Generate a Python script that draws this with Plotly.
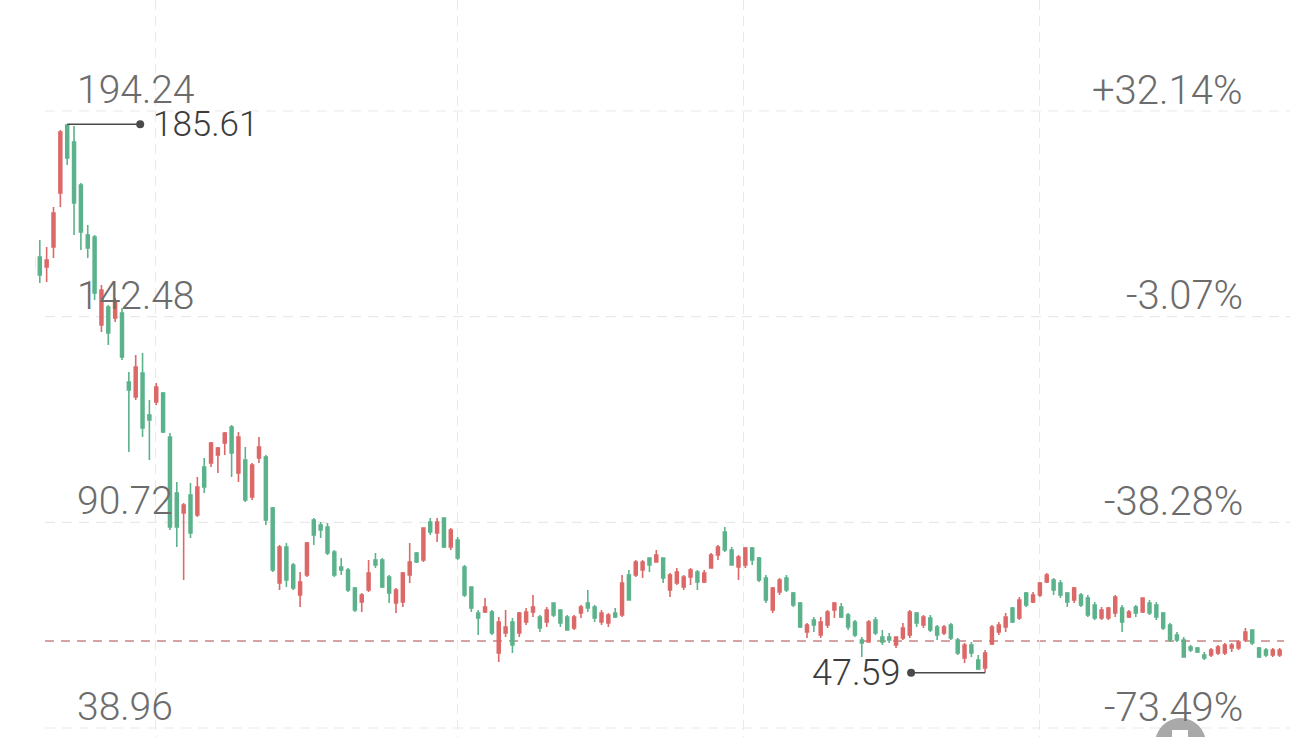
import plotly.graph_objects as go
import numpy as np

# ---------------- data ----------------
opens = [149.45, 152.21, 149.69, 154.73, 168.32, 185.43, 181.15, 170.33, 157.75, 157.25,
         135.10, 139.63, 136.86, 138.12, 120.75, 116.97, 123.02, 112.45, 115.72, 117.98,
         106.91, 92.82, 87.78, 92.32, 87.28, 99.36, 100.37, 102.38, 105.40, 109.43,
         97.85, 101.12, 91.81, 101.63, 101.87, 89.04, 70.17, 79.23, 74.70, 67.15,
         72.18, 86.02, 84.76, 84.26, 77.97, 74.19, 73.44, 68.91, 65.38, 68.41,
         75.96, 75.96, 71.68, 65.13, 65.38, 72.18, 77.72, 75.96, 85.52, 82.75,
         86.53, 79.23, 80.99, 74.19, 69.16, 62.61, 62.87, 62.87, 52.55, 57.58,
         60.35, 57.58, 60.35, 62.87, 61.61, 60.35, 65.13, 63.37, 61.61, 58.84,
         62.61, 65.13, 64.13, 60.35, 60.10, 62.61, 62.11, 72.18, 72.18, 73.44,
         76.46, 75.45, 76.46, 68.41, 70.17, 69.16, 71.68, 72.93, 70.42, 73.94,
         77.21, 83.00, 78.47, 74.19, 74.70, 78.97, 76.46, 71.42, 63.37, 67.90,
         71.42, 67.65, 65.13, 57.83, 60.85, 57.08, 59.60, 63.37, 64.13, 62.11,
         60.35, 55.82, 55.32, 60.85, 56.57, 56.57, 54.56, 56.32, 57.08, 62.61,
         59.60, 61.36, 59.09, 57.58, 59.60, 55.82, 51.29, 54.56, 50.79, 48.77,
         54.81, 57.83, 59.09, 63.87, 61.36, 67.65, 65.38, 67.15, 70.42, 70.92,
         70.17, 67.65, 65.89, 67.15, 66.39, 64.63, 61.36, 61.36, 62.61, 63.87,
         61.61, 64.13, 62.87, 65.13, 64.63, 62.61, 59.60, 57.08, 55.82, 54.06,
         53.80, 52.05, 52.05, 52.55, 52.55, 53.80, 53.80, 55.82, 58.34, 53.80,
         53.30, 52.05, 52.05]
highs = [152.72, 156.49, 154.73, 164.79, 184.17, 185.61, 185.18, 170.84, 160.27, 157.75,
         145.17, 140.13, 141.89, 139.38, 123.27, 127.55, 128.05, 116.22, 120.50, 118.24,
         107.92, 95.58, 90.30, 95.33, 96.84, 101.63, 105.65, 104.39, 108.17, 109.93,
         108.17, 104.39, 100.37, 106.91, 102.38, 89.29, 79.73, 80.24, 75.21, 72.93,
         80.49, 86.53, 85.52, 85.27, 78.47, 76.46, 73.94, 69.16, 67.65, 75.96,
         77.72, 76.46, 72.18, 68.91, 72.93, 80.24, 77.97, 84.01, 86.53, 86.53,
         86.53, 84.01, 81.74, 74.70, 69.16, 63.37, 66.39, 63.37, 61.61, 63.37,
         61.36, 62.87, 63.88, 67.15, 62.11, 64.13, 65.13, 63.37, 62.11, 62.11,
         64.63, 68.41, 64.63, 63.37, 62.61, 63.88, 72.18, 73.44, 75.96, 75.96,
         76.46, 78.47, 76.46, 72.68, 73.94, 72.18, 73.94, 73.44, 73.44, 77.72,
         79.73, 84.26, 79.23, 77.21, 79.23, 79.23, 76.71, 72.18, 69.16, 71.42,
         72.18, 67.90, 65.38, 60.10, 61.61, 61.61, 63.37, 65.38, 65.13, 62.61,
         60.85, 56.57, 60.85, 61.61, 58.34, 57.58, 56.57, 60.10, 63.37, 62.87,
         62.11, 62.11, 59.60, 59.60, 60.10, 56.32, 55.07, 55.32, 52.05, 53.30,
         59.60, 60.35, 62.61, 64.13, 66.64, 67.90, 67.90, 70.42, 72.68, 71.42,
         70.92, 67.90, 69.16, 67.65, 67.15, 65.38, 64.13, 64.13, 67.15, 64.63,
         63.37, 64.63, 66.39, 65.89, 65.38, 62.87, 60.10, 57.83, 56.57, 54.56,
         54.06, 52.80, 53.80, 54.56, 55.07, 55.07, 55.82, 58.84, 58.34, 54.06,
         53.80, 53.80, 53.80]
lows = [148.44, 145.67, 145.92, 151.96, 164.79, 175.37, 157.75, 153.97, 151.96, 141.39,
        133.34, 130.07, 135.85, 126.29, 103.14, 116.22, 106.91, 101.12, 114.97, 107.92,
        83.51, 79.23, 70.92, 81.49, 86.78, 92.82, 99.36, 97.85, 102.38, 96.84,
        95.58, 90.55, 91.06, 100.37, 84.76, 72.93, 68.41, 69.16, 68.41, 64.13,
        71.68, 79.73, 81.49, 77.21, 71.68, 72.18, 67.90, 62.87, 62.87, 67.90,
        73.94, 68.91, 65.13, 62.61, 64.13, 70.17, 75.20, 75.45, 82.25, 80.49,
        78.97, 78.47, 75.96, 66.64, 62.87, 57.08, 62.61, 57.08, 50.28, 56.57,
        52.55, 56.57, 59.60, 61.61, 57.83, 59.09, 61.61, 59.09, 58.34, 58.34,
        61.36, 62.87, 60.35, 59.60, 59.09, 61.36, 61.61, 65.89, 71.68, 71.42,
        72.93, 75.45, 70.17, 66.64, 69.66, 68.41, 69.66, 68.41, 70.17, 73.94,
        75.96, 77.97, 74.70, 70.92, 73.94, 74.70, 70.42, 65.13, 62.61, 67.15,
        67.90, 64.13, 58.84, 56.32, 57.83, 56.32, 58.84, 61.36, 61.36, 58.34,
        56.57, 51.54, 55.32, 57.08, 54.56, 55.07, 53.80, 55.82, 56.32, 59.09,
        58.84, 57.83, 55.82, 57.08, 55.82, 52.05, 50.03, 51.54, 48.30, 47.59,
        54.56, 57.08, 57.83, 60.10, 60.85, 64.13, 65.13, 66.64, 70.17, 67.15,
        66.39, 64.13, 65.13, 64.13, 61.61, 60.85, 60.85, 60.85, 61.61, 57.83,
        61.36, 61.61, 62.61, 62.11, 60.85, 58.34, 55.32, 55.32, 51.54, 52.80,
        52.55, 50.79, 51.54, 52.05, 52.05, 52.80, 53.30, 55.32, 54.56, 51.29,
        51.54, 51.54, 51.54]
closes = [151.96, 147.68, 151.46, 163.28, 183.67, 177.13, 165.80, 158.50, 154.48, 143.15,
          143.91, 133.09, 140.89, 127.04, 118.74, 124.53, 109.17, 111.19, 119.49, 108.17,
          84.26, 84.26, 89.80, 82.75, 94.33, 94.33, 105.40, 104.14, 107.92, 102.88,
          106.91, 91.06, 99.87, 104.39, 86.02, 73.44, 79.23, 70.92, 68.91, 70.42,
          80.24, 82.25, 83.51, 77.72, 72.18, 73.44, 68.41, 63.37, 67.15, 72.68,
          74.70, 69.16, 67.65, 68.41, 72.68, 75.45, 75.45, 84.01, 83.00, 85.52,
          79.23, 83.51, 76.46, 67.15, 63.87, 61.36, 64.13, 57.58, 60.35, 59.09,
          54.56, 62.61, 62.87, 64.13, 58.84, 63.37, 62.11, 60.10, 58.34, 61.61,
          64.13, 63.87, 61.36, 62.61, 62.11, 61.61, 70.17, 65.89, 75.45, 75.45,
          74.70, 77.21, 71.42, 72.18, 72.93, 71.68, 73.44, 70.42, 72.68, 77.21,
          79.23, 78.47, 74.70, 76.71, 78.97, 75.96, 70.92, 65.89, 68.91, 70.92,
          68.41, 64.63, 59.09, 59.60, 59.60, 60.35, 62.87, 65.13, 61.61, 59.09,
          57.08, 55.07, 60.35, 57.58, 55.32, 55.82, 56.57, 58.84, 62.87, 60.10,
          61.61, 58.34, 57.08, 59.09, 56.32, 52.55, 54.56, 52.55, 48.52, 52.55,
          59.09, 59.60, 61.61, 60.35, 65.89, 64.63, 67.15, 70.17, 72.18, 68.41,
          67.15, 65.38, 68.91, 64.63, 62.11, 61.36, 63.37, 63.87, 66.64, 60.35,
          62.87, 62.61, 66.39, 62.61, 61.61, 58.84, 55.82, 55.82, 51.54, 53.30,
          52.80, 51.29, 53.30, 54.06, 54.56, 54.56, 55.32, 57.83, 55.07, 51.54,
          52.05, 53.30, 53.30]

price_labels = [194.24, 142.48, 90.72, 38.96]
pct_labels = ["+32.14%", "-3.07%", "-38.28%", "-73.49%"]
ref_price = 55.57                       # dashed reference line
month_breaks = [17.82, 61.91, 103.8, 146.87]   # vertical grid positions (candle index)

# ---------------- layout constants ----------------
W, H = 1292, 737
PLOT_LEFT = 35
PX_PER_CANDLE = 6.85
X_START = 0.3
RED = "#dc6868"
GREEN = "#5bb28b"
LABEL_GREY = "#6c6c6c"
MARK_GREY = "#4a4a4a"
TEXT_DARK = "#3c3c3c"
GRID = "#e9e9e9"
FONT = "Roboto, sans-serif"

x = list(range(len(opens)))

# y scale: the label texts are centred at px 90 (top) and 707 (bottom)
top_px, bot_px = 90, 707
upp = (price_labels[0] - price_labels[-1]) / (bot_px - top_px)
y_top = price_labels[0] + top_px * upp
y_bot = y_top - H * upp
x_end = X_START + (W - PLOT_LEFT) / PX_PER_CANDLE


def paper_x(px):
    return (px - PLOT_LEFT) / (W - PLOT_LEFT)


def paper_y(py):
    return 1 - py / H


fig = go.Figure()
fig.add_trace(go.Candlestick(
    x=x, open=opens, high=highs, low=lows, close=closes,
    increasing=dict(line=dict(color=RED, width=1.6), fillcolor=RED),
    decreasing=dict(line=dict(color=GREEN, width=1.6), fillcolor=GREEN),
    whiskerwidth=0, hoverinfo="skip", showlegend=False,
))

shapes = []
# horizontal dashed grid lines, 21 px below each label centre
for v in price_labels:
    shapes.append(dict(type="line", xref="paper", yref="y", ysizemode="pixel",
                       yanchor=v, y0=-21, y1=-21, x0=paper_x(45), x1=paper_x(1290),
                       line=dict(color=GRID, width=1.2, dash="10px,7px"), layer="below"))
# reference dashed line
shapes.append(dict(type="line", xref="paper", yref="y", x0=paper_x(45), x1=paper_x(1284),
                   y0=ref_price, y1=ref_price,
                   line=dict(color="#c98585", width=1.5, dash="9px,7px"), layer="below"))

hi_idx = int(np.argmax(highs))
lo_idx = int(np.argmin(lows))
hi_val = highs[hi_idx]
lo_val = lows[lo_idx]

# max marker: line to the right + dot
shapes.append(dict(type="line", xref="x", yref="y", xsizemode="pixel", xanchor=hi_idx,
                   x0=0, x1=73, y0=hi_val, y1=hi_val,
                   line=dict(color=MARK_GREY, width=1.5)))
shapes.append(dict(type="circle", xref="x", yref="y", xsizemode="pixel", ysizemode="pixel",
                   xanchor=hi_idx, yanchor=hi_val, x0=69, x1=77, y0=-4, y1=4,
                   fillcolor=MARK_GREY, line=dict(width=0)))
# min marker: line to the left + dot
shapes.append(dict(type="line", xref="x", yref="y", xsizemode="pixel", xanchor=lo_idx,
                   x0=-74, x1=0, y0=lo_val, y1=lo_val,
                   line=dict(color=MARK_GREY, width=1.5)))
shapes.append(dict(type="circle", xref="x", yref="y", xsizemode="pixel", ysizemode="pixel",
                   xanchor=lo_idx, yanchor=lo_val, x0=-78, x1=-70, y0=-4, y1=4,
                   fillcolor=MARK_GREY, line=dict(width=0)))
# floating round button partly visible at the bottom
shapes.append(dict(type="circle", xref="paper", yref="paper",
                   x0=paper_x(1155), x1=paper_x(1206), y0=paper_y(770), y1=paper_y(718),
                   fillcolor="#a9a9a9", line=dict(width=0), layer="above"))
shapes.append(dict(type="rect", xref="paper", yref="paper",
                   x0=paper_x(1172), x1=paper_x(1188), y0=paper_y(740), y1=paper_y(730),
                   fillcolor="#ffffff", line=dict(width=0), layer="above"))

annotations = []
for v, pct in zip(price_labels, pct_labels):
    annotations.append(dict(xref="paper", yref="y", x=paper_x(75), y=v, yshift=0,
                            xanchor="left", yanchor="middle", showarrow=False,
                            text=f"{v:.2f}", font=dict(family=FONT, size=39, color=LABEL_GREY, weight=300)))
    annotations.append(dict(xref="paper", yref="y", x=paper_x(1245), y=v, yshift=0,
                            xanchor="right", yanchor="middle", showarrow=False,
                            text=pct, font=dict(family=FONT, size=40, color=LABEL_GREY, weight=300)))
annotations.append(dict(xref="x", yref="y", x=hi_idx, y=hi_val, xshift=84, yshift=0,
                        xanchor="left", yanchor="middle", showarrow=False,
                        text=f"{hi_val:.2f}", font=dict(family=FONT, size=35, color=TEXT_DARK, weight=300)))
annotations.append(dict(xref="x", yref="y", x=lo_idx, y=lo_val, xshift=-82, yshift=0,
                        xanchor="right", yanchor="middle", showarrow=False,
                        text=f"{lo_val:.2f}", font=dict(family=FONT, size=36, color=TEXT_DARK, weight=300)))

fig.update_layout(
    width=W, height=H,
    margin=dict(l=PLOT_LEFT, r=0, t=0, b=0, pad=0),
    paper_bgcolor="white", plot_bgcolor="white",
    font=dict(family=FONT),
    boxgap=0.4,
    shapes=shapes, annotations=annotations,
    hovermode=False,
    xaxis=dict(range=[X_START, x_end], rangeslider=dict(visible=False),
               tickvals=month_breaks, showticklabels=False, ticks="",
               showgrid=True, gridcolor=GRID, gridwidth=1.2, griddash="10px,6px",
               zeroline=False, showline=False, fixedrange=True),
    yaxis=dict(range=[y_bot, y_top], showgrid=False, showticklabels=False,
               zeroline=False, showline=False, ticks="", fixedrange=True),
)

fig.write_html("out.html", config={"displayModeBar": False},
               post_script="document.body.style.margin='0';document.body.style.overflow='hidden';")
